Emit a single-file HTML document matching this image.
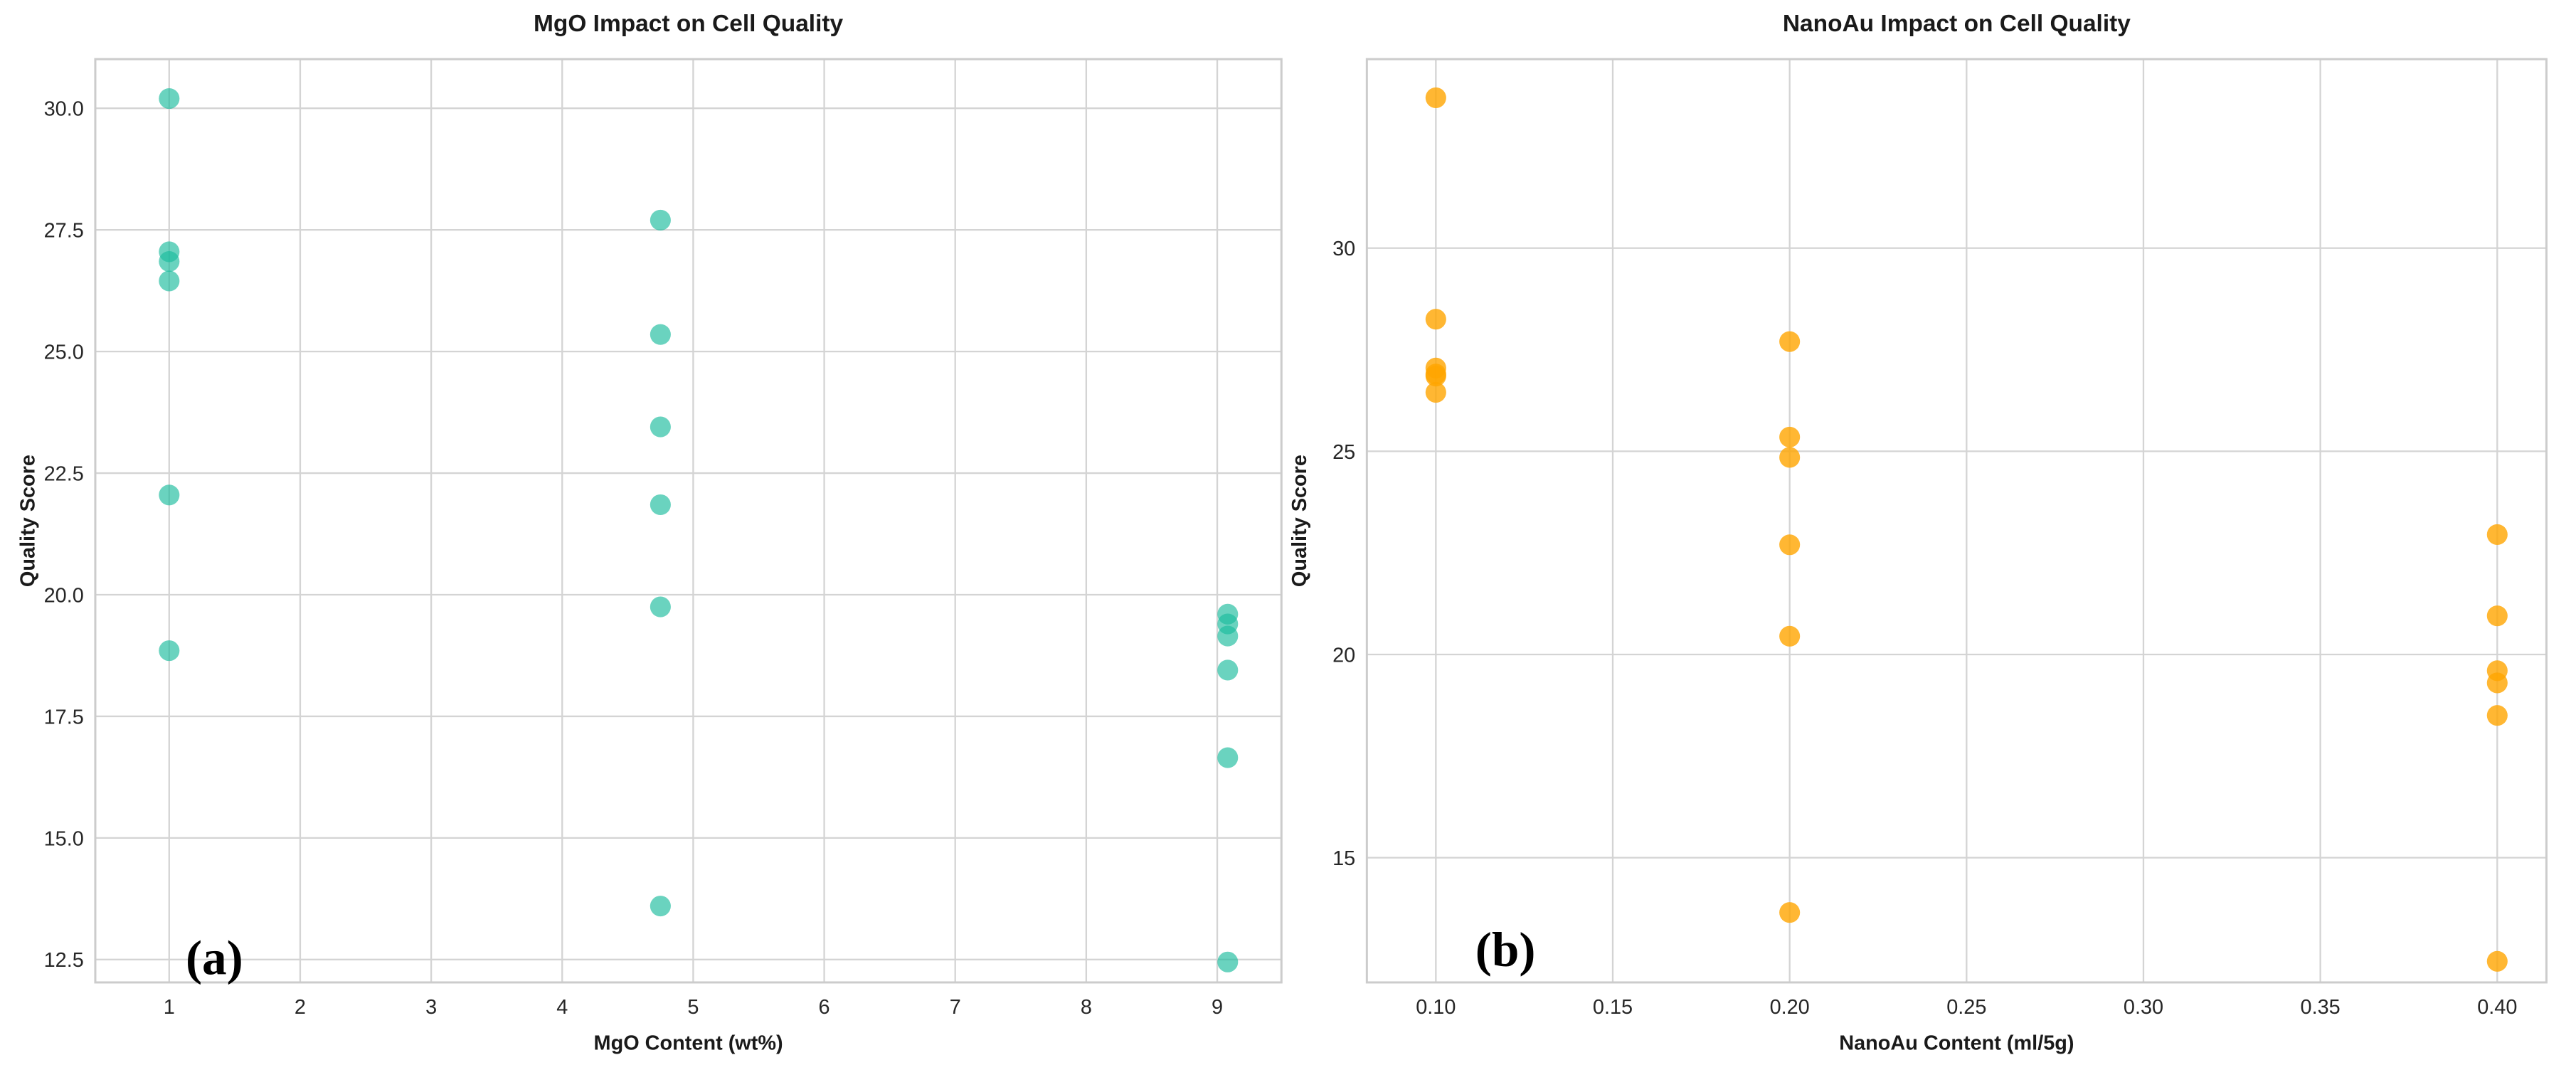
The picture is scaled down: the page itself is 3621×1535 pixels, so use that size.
<!DOCTYPE html>
<html><head><meta charset="utf-8"><style>
html,body{margin:0;padding:0;background:#fff;}
svg{display:block;font-family:"Liberation Sans",sans-serif;}
</style></head><body>
<svg id="chart" width="3621" height="1535" viewBox="0 0 1568 664.7" xmlns="http://www.w3.org/2000/svg"></svg>
<script>
// Panel (a) data
const mgoX = [1,1,1,1,1,1,4.75,4.75,4.75,4.75,4.75,4.75,9.08,9.08,9.08,9.08,9.08,9.08];
const mgoY = [30.2,27.05,26.85,26.45,22.05,18.85,27.7,25.35,23.45,21.85,19.75,13.6,19.6,19.4,19.15,18.45,16.65,12.45];
const mgoXTicks = [1,2,3,4,5,6,7,8,9];
const mgoYTicks = [12.5,15.0,17.5,20.0,22.5,25.0,27.5,30.0];
// Panel (b) data
const auX = [0.1,0.1,0.1,0.1,0.1,0.1,0.2,0.2,0.2,0.2,0.2,0.2,0.4,0.4,0.4,0.4,0.4,0.4];
const auY = [33.7,28.25,27.05,26.9,26.85,26.45,27.7,25.35,24.85,22.7,20.45,13.65,22.95,20.95,19.6,19.3,18.5,12.45];
const auXTicks = [0.10,0.15,0.20,0.25,0.30,0.35,0.40];
const auYTicks = [15,20,25,30];

const NS="http://www.w3.org/2000/svg";
const svg=document.getElementById('chart');
function mk(tag,attrs,parent){const e=document.createElementNS(NS,tag);for(const k in attrs)e.setAttribute(k,attrs[k]);(parent||svg).appendChild(e);return e;}

function panel(o){
  const g=mk('g',{});
  
  
  const sx=v=>o.L+(v-o.xmin)/(o.xmax-o.xmin)*(o.R-o.L);
  const sy=v=>o.B-(v-o.ymin)/(o.ymax-o.ymin)*(o.B-o.T);
  o.xt.forEach(t=>{
    const l=mk('line',{x1:sx(t),x2:sx(t),y1:o.T,y2:o.B,stroke:'#d4d4d4','stroke-width':1},g);
    
    
    const tx=mk('text',{x:sx(t),y:o.B+19,'text-anchor':'middle','font-size':12.5,fill:'#262626'},g);
    
    
    tx.textContent=o.xf(t);
  });
  o.yt.forEach(t=>{
    const l=mk('line',{x1:o.L,x2:o.R,y1:sy(t),y2:sy(t),stroke:'#d4d4d4','stroke-width':1},g);
    
    
    const tx=mk('text',{x:o.L-7,y:sy(t)+4.5,'text-anchor':'end','font-size':12.5,fill:'#262626'},g);
    
    
    tx.textContent=o.yf(t);
  });
  const fr=mk('rect',{x:o.L,y:o.T,width:o.R-o.L,height:o.B-o.T,fill:'none',stroke:'#cccccc','stroke-width':1.3},g);
  
  
  o.xs.forEach((x,i)=>{
    const c=mk('circle',{cx:sx(x),cy:sy(o.ys[i]),r:6.3,fill:o.color,'fill-opacity':o.alpha},g);
    
    
  });
  const ti=mk('text',{x:(o.L+o.R)/2,y:o.T-17,'text-anchor':'middle','font-size':14.5,'font-weight':'bold',fill:'#1a1a1a'},g);
  
  
  ti.textContent=o.title;
  const xl=mk('text',{x:(o.L+o.R)/2,y:o.B+41,'text-anchor':'middle','font-size':12.5,'font-weight':'bold',fill:'#1a1a1a'},g);
  
  
  xl.textContent=o.xlabel;
  const yl=mk('text',{x:0,y:0,'text-anchor':'middle','font-size':12.5,'font-weight':'bold',fill:'#1a1a1a',transform:`translate(${o.L-37},${(o.T+o.B)/2}) rotate(-90)`},g);
  
  
  yl.textContent='Quality Score';
  const pl=mk('text',{x:o.lx,y:o.ly,'font-size':30,'font-weight':'bold','font-family':'"Liberation Serif",serif',fill:'#000'},g);
  
  
  pl.textContent=o.label;
}

panel({name:'mgo-panel',L:58,R:780,T:36,B:598,xmin:0.436,xmax:9.49,ymin:12.03,ymax:31.01,
  xt:mgoXTicks,yt:mgoYTicks,xf:t=>String(t),yf:t=>t.toFixed(1),xs:mgoX,ys:mgoY,
  color:'#1abc9c',alpha:0.65,title:'MgO Impact on Cell Quality',xlabel:'MgO Content (wt%)',label:'(a)',lx:113,ly:593});
panel({name:'nanoau-panel',L:832,R:1550,T:36,B:598,xmin:0.0805,xmax:0.4139,ymin:11.93,ymax:34.65,
  xt:auXTicks,yt:auYTicks,xf:t=>t.toFixed(2),yf:t=>String(t),xs:auX,ys:auY,
  color:'#ffa500',alpha:0.8,title:'NanoAu Impact on Cell Quality',xlabel:'NanoAu Content (ml/5g)',label:'(b)',lx:898,ly:588});
</script>
</body></html>
